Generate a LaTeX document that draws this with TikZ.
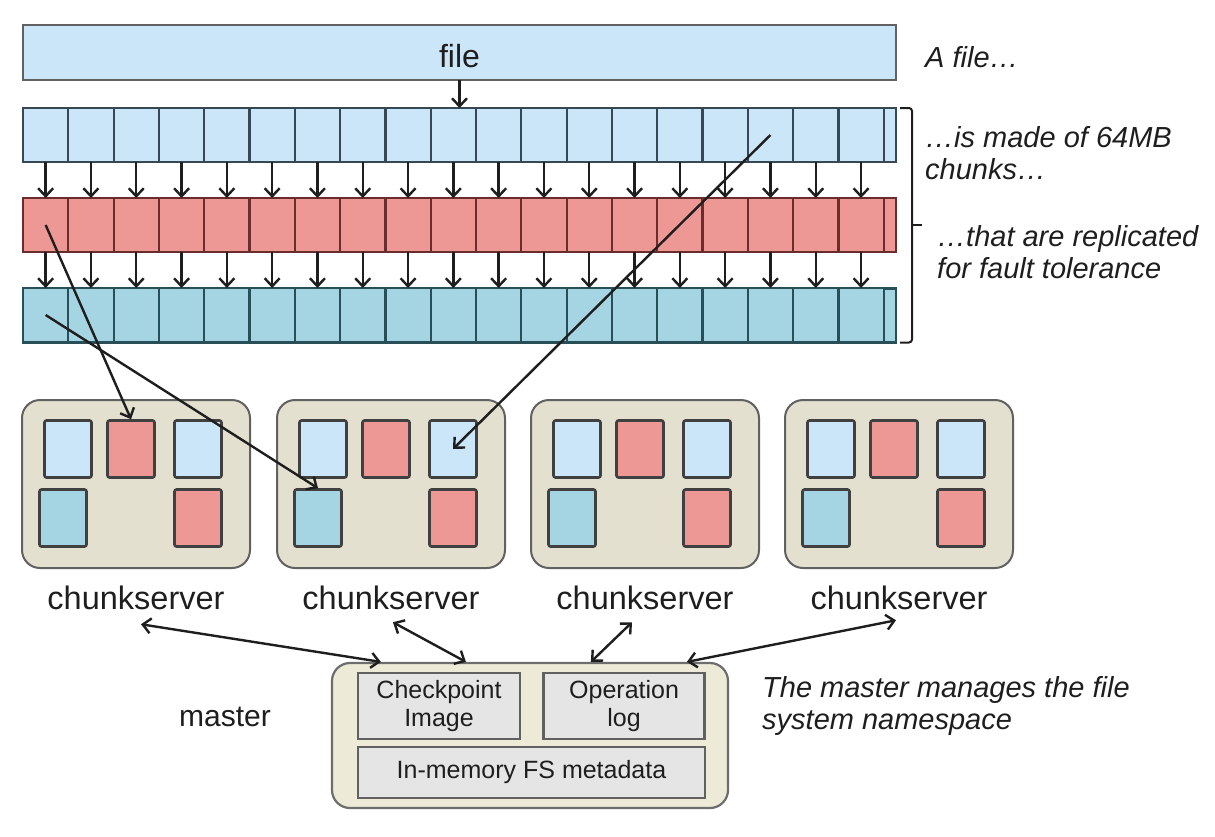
\documentclass[tikz,border=0pt]{standalone}
\usepackage{fontspec}
\setmainfont{Liberation Sans}
\usetikzlibrary{positioning, arrows.meta, calc}

\definecolor{fileblue}{RGB}{204,230,249}
\definecolor{replred}{RGB}{238,152,150}
\definecolor{replteal}{RGB}{165,213,226}
\definecolor{blueedge}{RGB}{55,72,84}
\definecolor{rededge}{RGB}{105,45,45}
\definecolor{tealedge}{RGB}{40,78,88}
\definecolor{csbeige}{RGB}{228,224,207}
\definecolor{mastercream}{RGB}{237,235,215}
\definecolor{metagray}{RGB}{229,229,229}
\definecolor{ink}{RGB}{30,30,30}

\begin{document}
\begin{tikzpicture}[x=1pt, y=-1pt,
        row/.style={draw=blueedge, line width=2.2pt, minimum width=873pt, minimum height=54pt, inner sep=0pt, outer sep=0pt},
        chunk/.style={draw=blueedge, line width=2.2pt, minimum width=45.3pt, minimum height=54pt, anchor=north west, inner sep=0pt, outer sep=0pt},
        server/.style={draw=ink!70, fill=csbeige, line width=2pt, rounded corners=18pt, minimum width=228pt, minimum height=168pt},
        piece/.style={draw=ink!85, line width=2.6pt, rounded corners=2pt, minimum width=47pt, minimum height=57pt, inner sep=0pt},
        csname/.style={font=\fontsize{32.5}{36}\selectfont, text=ink, inner sep=0pt},
        note/.style={font=\fontsize{29}{32.5}\selectfont\itshape, text=ink, align=left, anchor=west, inner sep=0pt},
        meta/.style={draw=ink!70, fill=metagray, line width=2.6pt, inner sep=0pt, align=center, font=\fontsize{25}{28}\selectfont, text=ink},
        link/.style={-{Straight Barb[length=8pt,width=15pt]}, line width=2.4pt, ink},
        ctrl/.style={{Straight Barb[length=8pt,width=15pt]}-{Straight Barb[length=8pt,width=15pt]}, line width=2.4pt, ink}]

    \useasboundingbox (0,0) rectangle (1215,836);

    % the file and its chunks
    \node[row, fill=fileblue, draw=ink!70, font=\fontsize{32}{36}\selectfont, text=ink, text height=31pt, minimum height=55pt] (file) at (459.5,52.5) {file};
    \node[row, fill=fileblue] (row1) at (459.5,135) {};
    \node[row, fill=replred, draw=rededge] (row2) at (459.5,225) {};
    \node[row, fill=replteal, draw=tealedge] (row3) at (459.5,315.5) {};

    \foreach \i in {0,...,18} {
        \node[chunk, fill=fileblue] (a\i) at ({23+45.3*\i},108) {};
        \node[chunk, fill=replred, draw=rededge] (r\i) at ({23+45.3*\i},198) {};
        \node[chunk, fill=replteal, draw=tealedge] (t\i) at ({23+45.3*\i},288) {};
        \draw[link] (a\i) -- (r\i);
        \draw[link] (r\i) -- (t\i);
    }
    \draw[link] (file.south) -- (file.south |- row1.north);

    \draw[ink, line width=2pt, rounded corners=3pt]
        ([xshift=4pt]row1.north east) -- ++(12,0) |- ([xshift=4pt]row3.south east);
    \draw[ink, line width=2pt] ([xshift=16pt]row2.east) -- ++(10,0);

    \node[note] (n1) at (925,57) {A file…};
    \node[note] (n2) at (925,153) {…is made of 64MB\\chunks…};
    \node[note] (n3) at (937,252) {…that are replicated\\for fault tolerance};

    % chunkservers
    \foreach \s/\x in {1/136,2/391,3/645,4/899} {
        \node[server] (cs\s) at (\x,484) {};
        \node[piece, fill=fileblue] (cs\s-a) at ($(cs\s)+(-68,-35)$) {};
        \node[piece, fill=replred] (cs\s-b) at ($(cs\s)+(-5,-35)$) {};
        \node[piece, fill=fileblue] (cs\s-c) at ($(cs\s)+(62,-35)$) {};
        \node[piece, fill=replteal] (cs\s-d) at ($(cs\s)+(-73,34)$) {};
        \node[piece, fill=replred] (cs\s-e) at ($(cs\s)+(62,34)$) {};
        \node[csname, below=17pt of cs\s] (cs\s name) {chunkserver};
    }

    % master
    \node[draw=ink!65, fill=mastercream, line width=2.2pt, rounded corners=18pt, minimum width=396pt, minimum height=145pt] (master) at (530,735.5) {};
    \node[meta, minimum width=162pt, minimum height=66pt] (ckpt) at (439,706) {Checkpoint\\Image};
    \node[meta, minimum width=161pt, minimum height=66pt, right=21pt of ckpt] (oplog) {Operation\\log};
    \node[meta, minimum width=347pt, minimum height=51pt] (fsmeta) at (531.5,772.5) {In-memory FS metadata};
    \node[csname, font=\fontsize{30}{34}\selectfont] (mlabel) at (225,717) {master};
    \node[note] (mnote) at (762,706) {The master manages the file\\system namespace};

    \draw[link] (r0.center) -- (cs1-b.north);
    \draw[link] (t0.center) -- (cs2-d.north);
    \draw[link] (a16.center) -- (cs2-c.center);

    \draw[ctrl] ([shift={(5,14)}]cs1name.south) -- ([xshift=50pt]master.north west);
    \draw[ctrl] ([shift={(2,12)}]cs2name.south) -- ([xshift=135pt]master.north west);
    \draw[ctrl] ([shift={(-13,12)}]cs3name.south) -- ([xshift=260pt]master.north west);
    \draw[ctrl] ([shift={(-3,10)}]cs4name.south) -- ([xshift=356pt]master.north west);
\end{tikzpicture}
\end{document}
